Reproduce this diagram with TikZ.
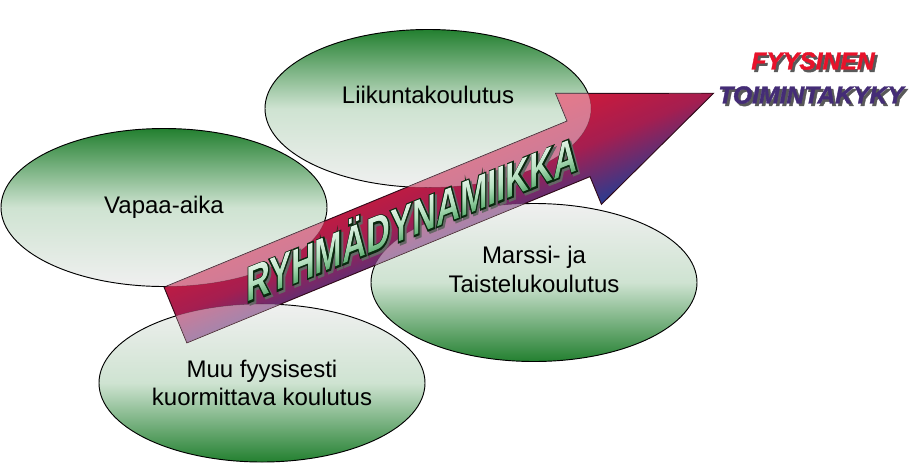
\documentclass[tikz,border=0pt]{standalone}
\usepackage{fontspec}
\setmainfont{Liberation Sans}
\newfontfamily\heavyword[FakeBold=6]{Liberation Sans Bold}
\newfontfamily\goalfont[FakeBold=1.5]{Liberation Sans Bold Italic}
\usetikzlibrary{shapes.geometric,fadings}
\definecolor{leafgreen}{RGB}{35,128,48}
\definecolor{darkleaf}{RGB}{10,40,15}
\definecolor{wordgreen}{RGB}{40,165,70}
\definecolor{arrowred}{RGB}{212,25,55}
\definecolor{arrowpurple}{RGB}{165,30,80}
\definecolor{arrowblue}{RGB}{40,60,145}
\definecolor{arrowline}{RGB}{50,10,25}
\definecolor{fyred}{RGB}{232,18,42}
\definecolor{tkblue}{RGB}{68,44,118}
\newcommand\groupArrow{(0,-30) -- (436,-30) -- (436,-60) -- (582,0) -- (436,60) -- (436,30) -- (0,30) -- cycle}
\begin{tikzfadingfrompicture}[name=groupfade]
\path (-260pt,-22pt) rectangle (260pt,22pt);
\node[anchor=base, inner sep=0pt, text=transparent!0, font=\normalfont\bfseries\fontsize{37}{37}\selectfont] at (0pt,-13.25pt) {RYHMÄDYNAMIIKKA};
\end{tikzfadingfrompicture}
\begin{document}
\begin{tikzpicture}[x=0.75pt,y=-0.75pt]
\tikzset{blob/.style = {shape=ellipse,draw=black,line width=0.7pt,minimum width=244.5pt,minimum height=118.5pt,inner sep=0pt}}
\tikzset{greentop/.style = {top color=leafgreen,bottom color=white!94!black,middle color=leafgreen!22!white}}
\tikzset{greenbottom/.style = {top color=white!94!black,bottom color=leafgreen,middle color=leafgreen!22!white}}
\tikzset{caption/.style = {font=\fontsize{18}{21.5}\selectfont,align=center,inner sep=0pt}}
\tikzset{bigword/.style = {anchor=base,inner sep=0pt,font=\bfseries\fontsize{37}{37}\selectfont}}
\tikzset{goal/.style = {font=\goalfont\fontsize{18.5}{20}\selectfont,inner sep=0pt}}
\useasboundingbox (0,0) rectangle (913,468);
% ellipses
\node[blob,greentop] (liikunta) at (428,108.5) {};
\node[blob,greentop] (vapaa) at (164,207.5) {};
\node[blob,greenbottom] (marssi) at (534,282.5) {};
\node[blob,greenbottom] (muu) at (262,383) {};
% the big arrow
\begin{scope}[transform canvas={shift={(175.5,315)},rotate=22.4}]
\shade[draw=arrowline,line width=0.7pt,top color=arrowred,bottom color=arrowblue,middle color=arrowpurple] \groupArrow;
\end{scope}
% ellipses seen through the arrow
\begin{scope}
\clip[shift={(175.5,315)},rotate=22.4] \groupArrow;
\foreach \e in {liikunta,vapaa,marssi,muu}
  \fill[white,fill opacity=0.42,draw=black,draw opacity=0.25] (\e.center) ellipse [x radius=163,y radius=79];
\end{scope}
% texts in the ellipses
\node[caption] (liikuntatext) at ([yshift=10pt]liikunta.center) {Liikuntakoulutus};
\node[caption] (vapaatext) at (vapaa.center) {Vapaa-aika};
\node[caption] (marssitext) at ([yshift=10pt]marssi.center) {Marssi- ja\\Taistelukoulutus};
\node[caption] (muutext) at (muu.center) {Muu fyysisesti\\kuormittava koulutus};
% word on the arrow
\begin{scope}[transform canvas={shift={(412,219)},cm={0.67,0.268,0,1,(0,0)}}]
\node[bigword,font=\heavyword\fontsize{37}{37}\selectfont,text=black!60] (wordshadow) at (2.2pt,-15.4pt) {RYHMÄDYNAMIIKKA};
\node[bigword,font=\heavyword\fontsize{37}{37}\selectfont,text=darkleaf] (wordedge) at (0pt,-13.25pt) {RYHMÄDYNAMIIKKA};
\shade[path fading=groupfade,fit fading=false,top color=white,bottom color=wordgreen!85!black,middle color=wordgreen!35!white] (-260pt,-22pt) rectangle (260pt,22pt);
\end{scope}
% goal
\node[goal,text=black!65] (fyshadow) at (815.5,63.5) {FYYSINEN};
\node[goal,text=fyred] (fyysinen) at (813,61) {FYYSINEN};
\node[goal,text=black!65] (tkshadow) at (813.5,97.5) {TOIMINTAKYKY};
\node[goal,text=tkblue] (toimintakyky) at (811,95) {TOIMINTAKYKY};
\end{tikzpicture}
\end{document}
